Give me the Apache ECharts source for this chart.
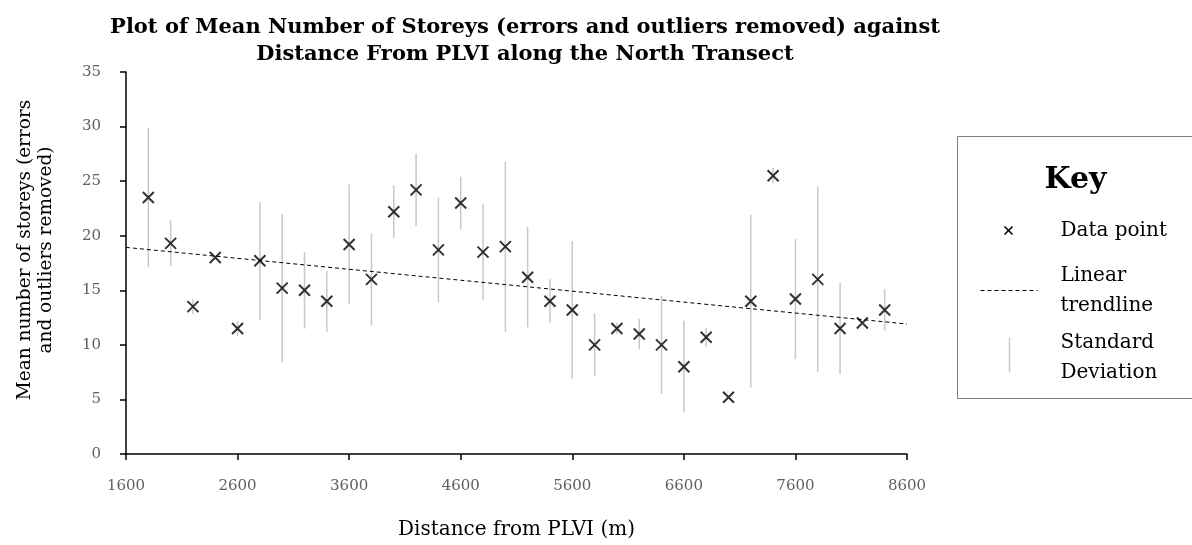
<!DOCTYPE html>
<html>
<head>
<meta charset="utf-8">
<script src="https://cdn.jsdelivr.net/npm/echarts@6/dist/echarts.min.js"></script>
<style>
    html, body { margin: 0; padding: 0; background: #fff; }
    #chart { width: 1192px; height: 545px; }
</style>
</head>
<body>
<div id="chart"></div>
<script>
// distance from PLVI (m)
const distance = [
    1800, 2000, 2200, 2400, 2600, 2800, 3000, 3200, 3400, 3600, 3800, 4000,
    4200, 4400, 4600, 4800, 5000, 5200, 5400, 5600, 5800, 6000, 6200, 6400,
    6600, 6800, 7000, 7200, 7400, 7600, 7800, 8000, 8200, 8400,
];
// mean number of storeys
const meanStoreys = [
    23.5, 19.3, 13.5, 18.0, 11.5, 17.7, 15.2, 15.0, 14.0, 19.2, 16.0, 22.2,
    24.2, 18.7, 23.0, 18.5, 19.0, 16.2, 14.0, 13.2, 10.0, 11.5, 11.0, 10.0,
    8.0, 10.7, 5.2, 14.0, 25.5, 14.2, 16.0, 11.5, 12.0, 13.2,
];
// standard deviation (half length of the grey bars)
const stdDev = [
    6.4, 2.1, 0.7, 0.0, 0.7, 5.4, 6.8, 3.5, 2.8, 5.5, 4.2, 2.4,
    3.3, 4.8, 2.4, 4.4, 7.8, 4.6, 2.0, 6.3, 2.9, 0.5, 1.4, 4.5,
    4.2, 0.9, 0.0, 7.9, 0.7, 5.5, 8.5, 4.2, 0.0, 1.9,
];
// linear trendline end points [distance, storeys]
const trendline = [[1600, 18.93], [8600, 11.91]];

const xTicks = { min: 1600, max: 8600, interval: 1000 };
const yTicks = { min: 0, max: 35, interval: 5 };

const serif = "DejaVu Serif";
const crossPath = "path://M0,0L10,10M10,0L0,10";

const chart = echarts.init(document.getElementById("chart"));

const option = {
    animation: false,
    backgroundColor: "#fff",
    title: {
        text: "Plot of Mean Number of Storeys (errors and outliers removed) against\nDistance From PLVI along the North Transect",
        left: 520,
        top: 9,
        textAlign: "center",
        textStyle: {
            fontFamily: serif,
            fontWeight: "bold",
            fontSize: 21,
            lineHeight: 27,
            color: "#000",
        },
    },
    grid: {
        left: 126,
        right: 285,
        top: 72,
        bottom: 87,
    },
    xAxis: {
        type: "value",
        min: xTicks.min,
        max: xTicks.max,
        interval: xTicks.interval,
        name: "Distance from PLVI (m)",
        nameLocation: "middle",
        nameGap: 66,
        nameTextStyle: { fontFamily: serif, fontSize: 20, color: "#000" },
        axisLine: { lineStyle: { color: "#000", width: 1.5 } },
        axisTick: { length: 6, lineStyle: { color: "#000", width: 1.5 } },
        axisLabel: {
            margin: 25, fontFamily: serif, fontSize: 15, color: "#5f5f5f",
            formatter: (v) => String(v),
        },
        splitLine: { show: false },
    },
    yAxis: {
        type: "value",
        min: yTicks.min,
        max: yTicks.max,
        interval: yTicks.interval,
        name: "Mean number of storeys (errors\nand outliers removed)",
        nameLocation: "middle",
        nameGap: 69,
        nameRotate: 90,
        nameTextStyle: {
            fontFamily: serif, fontSize: 18.5, lineHeight: 21, color: "#000",
            padding: [0, 0, 0, 26],
        },
        axisLine: { show: true, lineStyle: { color: "#000", width: 1.5 } },
        axisTick: { show: true, length: 6, lineStyle: { color: "#000", width: 1.5 } },
        axisLabel: { margin: 25, fontFamily: serif, fontSize: 15, color: "#5f5f5f" },
        splitLine: { show: false },
    },
    series: [
        {
            name: "Standard Deviation",
            type: "custom",
            z: 1,
            silent: true,
            data: distance.map((d, i) => [d, meanStoreys[i] - stdDev[i], meanStoreys[i] + stdDev[i]]),
            renderItem: (params, api) => {
                const lo = api.coord([api.value(0), api.value(1)]);
                const hi = api.coord([api.value(0), api.value(2)]);
                return {
                    type: "line",
                    shape: { x1: lo[0], y1: lo[1], x2: hi[0], y2: hi[1] },
                    style: { stroke: "#c8c8c8", lineWidth: 1.5 },
                };
            },
        },
        {
            name: "Linear trendline",
            type: "line",
            z: 2,
            silent: true,
            symbol: "none",
            data: trendline,
            lineStyle: { color: "#000", width: 1, type: [4, 3] },
        },
        {
            name: "Data point",
            type: "scatter",
            z: 3,
            silent: true,
            symbol: crossPath,
            symbolSize: 11,
            data: distance.map((d, i) => [d, meanStoreys[i]]),
            itemStyle: { color: "#000", borderColor: "#000", borderWidth: 2 },
        },
    ],
    graphic: [
        {
            type: "group",
            left: 957,
            top: 136,
            children: [
                {
                    type: "rect",
                    shape: { x: 0, y: 0, width: 250, height: 262 },
                    style: { fill: "#fff", stroke: "#808080", lineWidth: 1 },
                },
                {
                    type: "text",
                    x: 118,
                    y: 44,
                    style: {
                        text: "Key", fontFamily: serif, fontWeight: "bold", fontSize: 30,
                        fill: "#000", align: "center", verticalAlign: "middle",
                    },
                },
                {
                    type: "line",
                    shape: { x1: 47, y1: 90, x2: 55, y2: 98 },
                    style: { stroke: "#000", lineWidth: 1.6 },
                },
                {
                    type: "line",
                    shape: { x1: 55, y1: 90, x2: 47, y2: 98 },
                    style: { stroke: "#000", lineWidth: 1.6 },
                },
                {
                    type: "text",
                    x: 103,
                    y: 94,
                    style: {
                        text: "Data point", fontFamily: serif, fontSize: 20,
                        fill: "#000", verticalAlign: "middle",
                    },
                },
                {
                    type: "line",
                    shape: { x1: 23, y1: 154, x2: 80, y2: 154 },
                    style: { stroke: "#000", lineWidth: 1, lineDash: [4, 3] },
                },
                {
                    type: "text",
                    x: 103,
                    y: 154,
                    style: {
                        text: "Linear\ntrendline", fontFamily: serif, fontSize: 20, lineHeight: 30,
                        fill: "#000", verticalAlign: "middle",
                    },
                },
                {
                    type: "line",
                    shape: { x1: 52, y1: 201, x2: 52, y2: 236 },
                    style: { stroke: "#c8c8c8", lineWidth: 1.5 },
                },
                {
                    type: "text",
                    x: 103,
                    y: 221,
                    style: {
                        text: "Standard\nDeviation", fontFamily: serif, fontSize: 20, lineHeight: 30,
                        fill: "#000", verticalAlign: "middle",
                    },
                },
            ],
        },
    ],
};

chart.setOption(option);
</script>
</body>
</html>
